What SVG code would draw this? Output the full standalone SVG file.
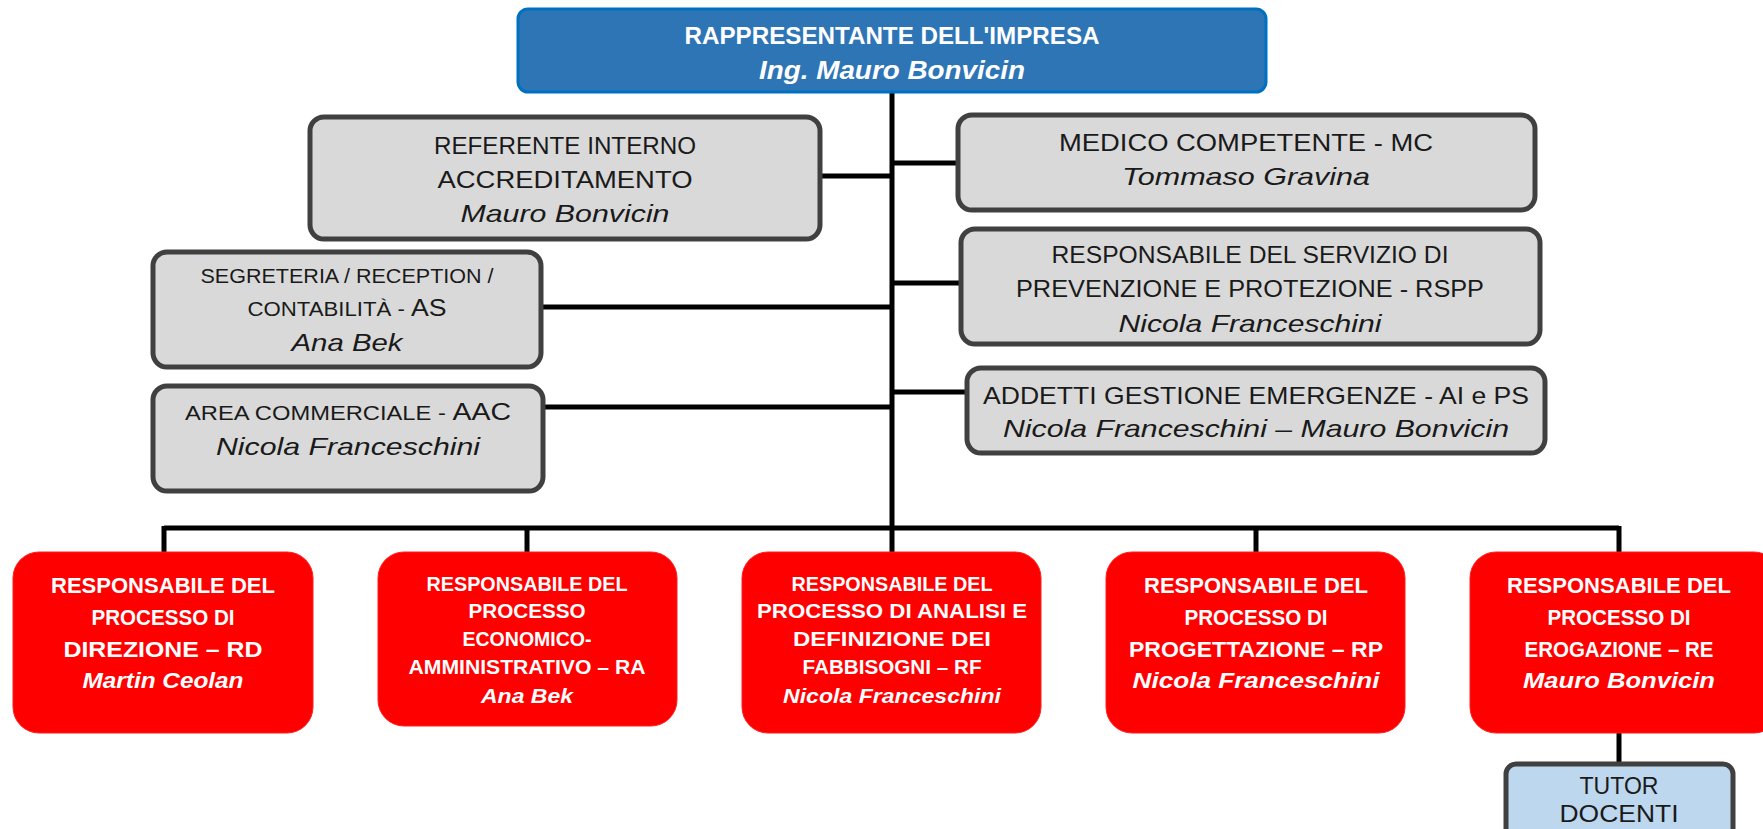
<svg xmlns="http://www.w3.org/2000/svg" width="1763" height="829" viewBox="0 0 1763 829">
<style>
.grey{fill:#D9D9D9;stroke:#404040;stroke-width:5}
.red{fill:#FF0000;stroke:#FF2020;stroke-width:1}
.top{fill:#2E75B6;stroke:#0070C0;stroke-width:3}
.tutor{fill:#BDD7EE;stroke:#404040;stroke-width:5}
.ln{stroke:#000;stroke-width:5;fill:none}
text{font-family:"Liberation Sans",Arial,sans-serif;text-anchor:middle}
.g{font-size:24px;fill:#1a1a1a}
.gs{font-size:20px;fill:#1a1a1a}
.i{font-style:italic}
.w{fill:#fff;font-weight:bold}
.r{font-size:22px}
.r2{font-size:20px}
</style>
<g id="connectors">
<path class="ln" d="M892 92V528"/>
<path class="ln" d="M820 176H892M541 307H892M543 407H892"/>
<path class="ln" d="M892 163H958M892 283H961M892 392H967"/>
<path class="ln" d="M164 528H1619M164 526V552M527 526V552M892 526V552M1256 526V552M1619 526V552"/>
<path class="ln" d="M1619 733V764"/>
</g>
<g id="n-top">
<rect class="top" x="518" y="9" width="748" height="83" rx="10"/>
<text class="w" x="892" y="44" font-size="24" textLength="415" lengthAdjust="spacingAndGlyphs">RAPPRESENTANTE DELL'IMPRESA</text>
<text class="w i" x="892" y="79" font-size="25" textLength="266" lengthAdjust="spacingAndGlyphs">Ing. Mauro Bonvicin</text>
</g>
<g id="n-ria">
<rect class="grey" x="310" y="117" width="510" height="122" rx="14"/>
<text class="g" x="565" y="154" textLength="262" lengthAdjust="spacingAndGlyphs">REFERENTE INTERNO</text>
<text class="g" x="565" y="188" textLength="255" lengthAdjust="spacingAndGlyphs">ACCREDITAMENTO</text>
<text class="g i" x="565" y="222" textLength="209" lengthAdjust="spacingAndGlyphs">Mauro Bonvicin</text>
</g>
<g id="n-as">
<rect class="grey" x="153" y="252" width="388" height="115" rx="14"/>
<text class="gs" x="347" y="283" textLength="293" lengthAdjust="spacingAndGlyphs">SEGRETERIA / RECEPTION /</text>
<text x="347" y="316" textLength="199" lengthAdjust="spacingAndGlyphs"><tspan class="gs">CONTABILITÀ - </tspan><tspan class="g">AS</tspan></text>
<text class="g i" x="347" y="351" textLength="111" lengthAdjust="spacingAndGlyphs">Ana Bek</text>
</g>
<g id="n-aac">
<rect class="grey" x="153" y="386" width="390" height="105" rx="14"/>
<text x="348" y="420" textLength="326" lengthAdjust="spacingAndGlyphs"><tspan class="gs">AREA COMMERCIALE - </tspan><tspan class="g">AAC</tspan></text>
<text class="g i" x="348" y="455" textLength="264" lengthAdjust="spacingAndGlyphs">Nicola Franceschini</text>
</g>
<g id="n-mc">
<rect class="grey" x="958" y="115" width="577" height="95" rx="14"/>
<text class="g" x="1246" y="151" textLength="374" lengthAdjust="spacingAndGlyphs">MEDICO COMPETENTE - MC</text>
<text class="g i" x="1246" y="185" textLength="248" lengthAdjust="spacingAndGlyphs">Tommaso Gravina</text>
</g>
<g id="n-rspp">
<rect class="grey" x="961" y="229" width="579" height="115" rx="14"/>
<text class="g" x="1250" y="263" textLength="397" lengthAdjust="spacingAndGlyphs">RESPONSABILE DEL SERVIZIO DI</text>
<text class="g" x="1250" y="297" textLength="468" lengthAdjust="spacingAndGlyphs">PREVENZIONE E PROTEZIONE - RSPP</text>
<text class="g i" x="1250" y="332" textLength="263" lengthAdjust="spacingAndGlyphs">Nicola Franceschini</text>
</g>
<g id="n-ae">
<rect class="grey" x="967" y="368" width="578" height="85" rx="14"/>
<text class="g" x="1256" y="404" textLength="546" lengthAdjust="spacingAndGlyphs">ADDETTI GESTIONE EMERGENZE - AI e PS</text>
<text class="g i" x="1256" y="437" textLength="506" lengthAdjust="spacingAndGlyphs">Nicola Franceschini – Mauro Bonvicin</text>
</g>
<g id="n-rd">
<rect class="red" x="13" y="552" width="300" height="181" rx="26"/>
<text class="w r" x="163" y="593" textLength="224" lengthAdjust="spacingAndGlyphs">RESPONSABILE DEL</text>
<text class="w r" x="163" y="625" textLength="143" lengthAdjust="spacingAndGlyphs">PROCESSO DI</text>
<text class="w r" x="163" y="657" textLength="199" lengthAdjust="spacingAndGlyphs">DIREZIONE – RD</text>
<text class="w r i" x="163" y="688" textLength="161" lengthAdjust="spacingAndGlyphs">Martin Ceolan</text>
</g>
<g id="n-ra">
<rect class="red" x="378" y="552" width="299" height="174" rx="26"/>
<text class="w r2" x="527" y="591" textLength="201" lengthAdjust="spacingAndGlyphs">RESPONSABILE DEL</text>
<text class="w r2" x="527" y="618" textLength="117" lengthAdjust="spacingAndGlyphs">PROCESSO</text>
<text class="w r2" x="527" y="646" textLength="129" lengthAdjust="spacingAndGlyphs">ECONOMICO-</text>
<text class="w r2" x="527" y="674" textLength="237" lengthAdjust="spacingAndGlyphs">AMMINISTRATIVO – RA</text>
<text class="w r2 i" x="527" y="703" textLength="92" lengthAdjust="spacingAndGlyphs">Ana Bek</text>
</g>
<g id="n-rf">
<rect class="red" x="742" y="552" width="299" height="181" rx="26"/>
<text class="w r2" x="892" y="591" textLength="201" lengthAdjust="spacingAndGlyphs">RESPONSABILE DEL</text>
<text class="w r2" x="892" y="618" textLength="270" lengthAdjust="spacingAndGlyphs">PROCESSO DI ANALISI E</text>
<text class="w r2" x="892" y="646" textLength="198" lengthAdjust="spacingAndGlyphs">DEFINIZIONE DEI</text>
<text class="w r2" x="892" y="674" textLength="179" lengthAdjust="spacingAndGlyphs">FABBISOGNI – RF</text>
<text class="w r2 i" x="892" y="703" textLength="218" lengthAdjust="spacingAndGlyphs">Nicola Franceschini</text>
</g>
<g id="n-rp">
<rect class="red" x="1106" y="552" width="299" height="181" rx="26"/>
<text class="w r" x="1256" y="593" textLength="224" lengthAdjust="spacingAndGlyphs">RESPONSABILE DEL</text>
<text class="w r" x="1256" y="625" textLength="143" lengthAdjust="spacingAndGlyphs">PROCESSO DI</text>
<text class="w r" x="1256" y="657" textLength="254" lengthAdjust="spacingAndGlyphs">PROGETTAZIONE – RP</text>
<text class="w r i" x="1256" y="688" textLength="247" lengthAdjust="spacingAndGlyphs">Nicola Franceschini</text>
</g>
<g id="n-re">
<rect class="red" x="1470" y="552" width="310" height="181" rx="26"/>
<text class="w r" x="1619" y="593" textLength="224" lengthAdjust="spacingAndGlyphs">RESPONSABILE DEL</text>
<text class="w r" x="1619" y="625" textLength="143" lengthAdjust="spacingAndGlyphs">PROCESSO DI</text>
<text class="w r" x="1619" y="657" textLength="189" lengthAdjust="spacingAndGlyphs">EROGAZIONE – RE</text>
<text class="w r i" x="1619" y="688" textLength="192" lengthAdjust="spacingAndGlyphs">Mauro Bonvicin</text>
</g>
<g id="n-tutor">
<rect class="tutor" x="1506" y="764" width="227" height="80" rx="10"/>
<text class="g" x="1619" y="794" font-size="20" textLength="79" lengthAdjust="spacingAndGlyphs">TUTOR</text>
<text class="g" x="1619" y="822" font-size="20" textLength="119" lengthAdjust="spacingAndGlyphs">DOCENTI</text>
</g>
</svg>
